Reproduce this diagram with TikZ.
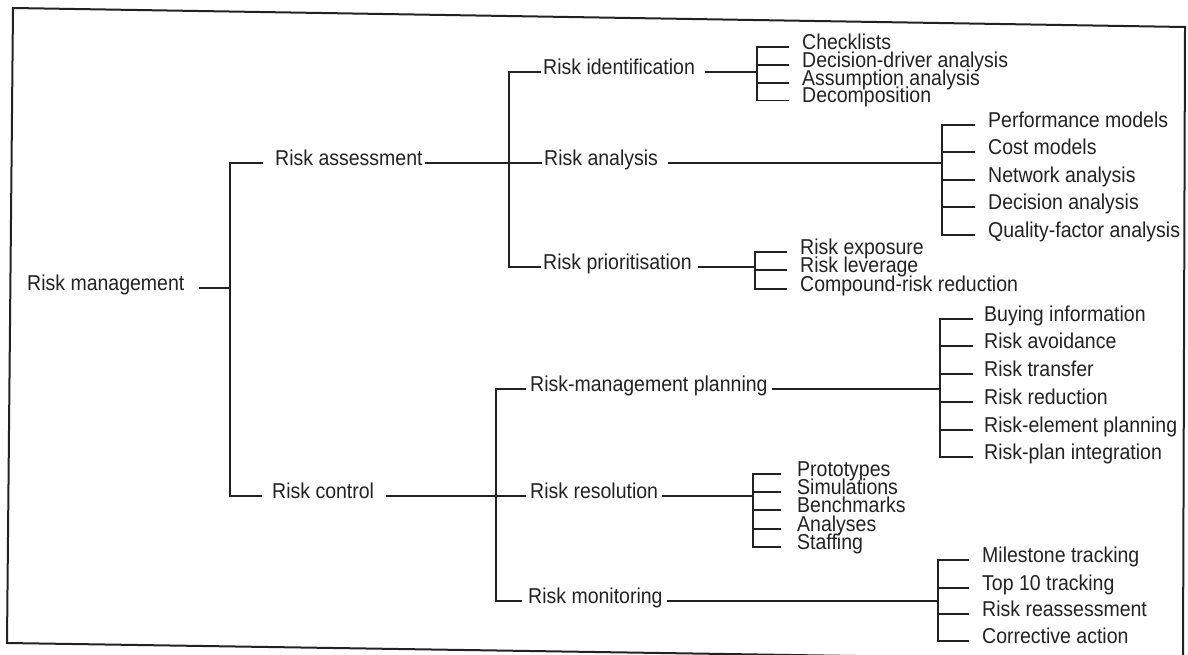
\documentclass[tikz,border=0pt]{standalone}
\usepackage{fontspec}
\setmainfont{Liberation Sans}[FakeStretch=0.907]
\definecolor{ink}{HTML}{222222}
\newcommand\diagfont{\fontsize{21.5pt}{23pt}\selectfont}
\begin{document}
\begin{tikzpicture}[x=1pt,y=-1pt,
  lbl/.style={anchor=west, inner sep=0pt, text height=0.72em, text depth=0.25em, font=\diagfont, text=ink},
  wire/.style={draw=ink, line width=1.5pt},
  framebox/.style={draw=ink, line width=2pt}]
\useasboundingbox (0,0) rectangle (1188,655);
\clip (0,0) rectangle (1188,655);
\fill[white] (0,0) rectangle (1188,655);
\draw[framebox] (13,8) -- (1185,27) -- (1183,661) -- (7,643) -- cycle;

% level 0 and 1
\node[lbl] (rm) at (27,288) {Risk management};
\node[lbl] (ras) at (275,163) {Risk assessment};
\node[lbl] (rc) at (272,496) {Risk control};
\coordinate (k0) at (230,0);
\draw[wire] ([xshift=14pt]rm.east) -- (k0 |- rm.east);
\draw[wire] ([xshift=-12pt]ras.west) -- (k0 |- ras.west) -- (k0 |- rc.west) -- ([xshift=-10pt]rc.west);

% level 2 upper
\node[lbl] (rid) at (543,72) {Risk identification};
\node[lbl] (ran) at (544,163) {Risk analysis};
\node[lbl] (rpr) at (543,267) {Risk prioritisation};
\coordinate (k1) at (509,0);
\draw[wire] ([xshift=2pt]ras.east) -- (k1 |- ras.east);
\draw[wire] ([xshift=-2pt]rid.west) -- (k1 |- rid.west) -- (k1 |- rpr.west) -- ([xshift=-2pt]rpr.west);
\draw[wire] (k1 |- ran.west) -- ([xshift=-2pt]ran.west);

% level 2 lower
\node[lbl] (rmp) at (530,389) {Risk-management planning};
\node[lbl] (rre) at (530,496) {Risk resolution};
\node[lbl] (rmo) at (528,601) {Risk monitoring};
\coordinate (k2) at (496,0);
\draw[wire] ([xshift=12pt]rc.east) -- (k2 |- rc.east);
\draw[wire] ([xshift=-4pt]rmp.west) -- (k2 |- rmp.west) -- (k2 |- rmo.west) -- ([xshift=-6pt]rmo.west);
\draw[wire] (k2 |- rre.west) -- ([xshift=-4pt]rre.west);

% group: identification
\coordinate (k3) at (757,0);
\node[lbl] (c1) at (802,47) {Checklists};
\node[lbl] (c2) at (802,65) {Decision-driver analysis};
\node[lbl] (c3) at (802,83) {Assumption analysis};
\node[lbl] (c4) at (802,100.5) {Decomposition};
\draw[wire] ([xshift=10pt]rid.east) -- (k3 |- rid.east);
\draw[wire] ([xshift=-13pt]c1.west) -- (k3 |- c1.west) -- (k3 |- c4.west) -- ([xshift=-13pt]c4.west);
\draw[wire] (k3 |- c2.west) -- ([xshift=-13pt]c2.west);
\draw[wire] (k3 |- c3.west) -- ([xshift=-13pt]c3.west);

% group: analysis
\coordinate (k4) at (942,0);
\node[lbl] (a1) at (988,125) {Performance models};
\node[lbl] (a2) at (988,152) {Cost models};
\node[lbl] (a3) at (988,180) {Network analysis};
\node[lbl] (a4) at (988,207) {Decision analysis};
\node[lbl] (a5) at (988,235) {Quality-factor analysis};
\draw[wire] ([xshift=10pt]ran.east) -- (k4 |- ran.east);
\draw[wire] ([xshift=-13pt]a1.west) -- (k4 |- a1.west) -- (k4 |- a5.west) -- ([xshift=-13pt]a5.west);
\draw[wire] (k4 |- a2.west) -- ([xshift=-13pt]a2.west);
\draw[wire] (k4 |- a3.west) -- ([xshift=-13pt]a3.west);
\draw[wire] (k4 |- a4.west) -- ([xshift=-13pt]a4.west);

% group: prioritisation
\coordinate (k5) at (755,0);
\node[lbl] (p1) at (800,252) {Risk exposure};
\node[lbl] (p2) at (800,270) {Risk leverage};
\node[lbl] (p3) at (800,289) {Compound-risk reduction};
\draw[wire] ([xshift=6pt]rpr.east) -- (k5 |- rpr.east);
\draw[wire] ([xshift=-13pt]p1.west) -- (k5 |- p1.west) -- (k5 |- p3.west) -- ([xshift=-13pt]p3.west);
\draw[wire] (k5 |- p2.west) -- ([xshift=-13pt]p2.west);

% group: planning
\coordinate (k6) at (940,0);
\node[lbl] (m1) at (984,319) {Buying information};
\node[lbl] (m2) at (984,346) {Risk avoidance};
\node[lbl] (m3) at (984,374) {Risk transfer};
\node[lbl] (m4) at (984,402) {Risk reduction};
\node[lbl] (m5) at (984,430) {Risk-element planning};
\node[lbl] (m6) at (984,457) {Risk-plan integration};
\draw[wire] ([xshift=4pt]rmp.east) -- (k6 |- rmp.east);
\draw[wire] ([xshift=-11pt]m1.west) -- (k6 |- m1.west) -- (k6 |- m6.west) -- ([xshift=-11pt]m6.west);
\draw[wire] (k6 |- m2.west) -- ([xshift=-11pt]m2.west);
\draw[wire] (k6 |- m3.west) -- ([xshift=-11pt]m3.west);
\draw[wire] (k6 |- m4.west) -- ([xshift=-11pt]m4.west);
\draw[wire] (k6 |- m5.west) -- ([xshift=-11pt]m5.west);

% group: resolution
\coordinate (k7) at (753,0);
\node[lbl] (r1) at (797,474) {Prototypes};
\node[lbl] (r2) at (797,492) {Simulations};
\node[lbl] (r3) at (797,510) {Benchmarks};
\node[lbl] (r4) at (797,529) {Analyses};
\node[lbl] (r5) at (797,547) {Staffing};
\draw[wire] ([xshift=4pt]rre.east) -- (k7 |- rre.east);
\draw[wire] ([xshift=-16pt]r1.west) -- (k7 |- r1.west) -- (k7 |- r5.west) -- ([xshift=-16pt]r5.west);
\draw[wire] (k7 |- r2.west) -- ([xshift=-16pt]r2.west);
\draw[wire] (k7 |- r3.west) -- ([xshift=-16pt]r3.west);
\draw[wire] (k7 |- r4.west) -- ([xshift=-16pt]r4.west);

% group: monitoring
\coordinate (k8) at (938,0);
\node[lbl] (t1) at (982,560) {Milestone tracking};
\node[lbl] (t2) at (982,588) {Top 10 tracking};
\node[lbl] (t3) at (982,614) {Risk reassessment};
\node[lbl] (t4) at (982,641) {Corrective action};
\draw[wire] ([xshift=4pt]rmo.east) -- (k8 |- rmo.east);
\draw[wire] ([xshift=-13pt]t1.west) -- (k8 |- t1.west) -- (k8 |- t4.west) -- ([xshift=-13pt]t4.west);
\draw[wire] (k8 |- t2.west) -- ([xshift=-13pt]t2.west);
\draw[wire] (k8 |- t3.west) -- ([xshift=-13pt]t3.west);
\end{tikzpicture}
\end{document}
